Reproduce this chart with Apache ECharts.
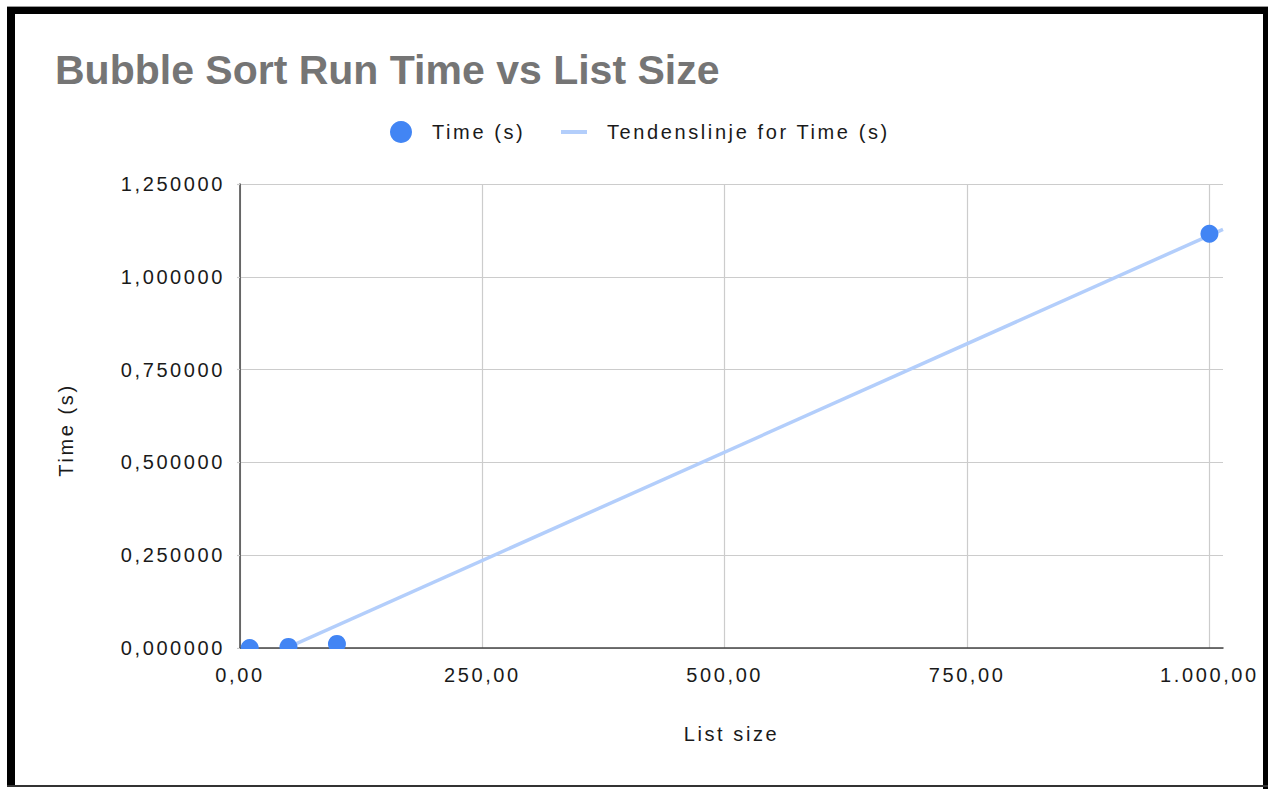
<!DOCTYPE html>
<html>
<head>
<meta charset="utf-8">
<script src="https://cdn.jsdelivr.net/npm/echarts@6/dist/echarts.min.js"></script>
<style>
  html, body { margin: 0; padding: 0; background: #fff; }
  #chart { width: 1268px; height: 789px; }
  /* wider tracking for the regular-weight labels, none for the bold title */
  #chart text { letter-spacing: 2.6px; }
  #chart text[style*="bold"], #chart text[font-weight="bold"] { letter-spacing: 0; }
</style>
</head>
<body>
<div id="chart"></div>
<script>
// Measured run times of bubble sort for several list sizes
const listSizes = [10, 50, 100, 1000];
const runTimes = [0.0001, 0.003, 0.011, 1.116];

const seriesName = 'Time (s)';
const trendName = 'Tendenslinje for Time (s)';
const titleText = 'Bubble Sort Run Time vs List Size';
const xAxisName = 'List size';
const yAxisName = 'Time (s)';

const xMax = 1014;
const xStep = 250;
const yMax = 1.25;
const yStep = 0.25;

// least-squares linear trend through the measurements
function linearFit(xs, ys) {
  const n = xs.length;
  const mx = xs.reduce((a, b) => a + b, 0) / n;
  const my = ys.reduce((a, b) => a + b, 0) / n;
  let sxy = 0, sxx = 0;
  for (let i = 0; i < n; i++) {
    sxy += (xs[i] - mx) * (ys[i] - my);
    sxx += (xs[i] - mx) * (xs[i] - mx);
  }
  const slope = sxy / sxx;
  return { slope, intercept: my - slope * mx };
}
const fit = linearFit(listSizes, runTimes);
const trendData = [0, xMax].map(x => [x, fit.intercept + fit.slope * x]);

function fmtX(v) {
  const parts = v.toFixed(2).split('.');
  parts[0] = parts[0].replace(/\B(?=(\d{3})+(?!\d))/g, '.');
  return parts.join(',');
}
function fmtY(v) {
  return v.toFixed(6).replace('.', ',');
}

const FONT = '"Liberation Sans", Arial, sans-serif';
const BLUE = '#4285f4';
const TREND = '#b3cefb';
const GRID = '#cccccc';
const AXIS = '#444444';
const TEXT = '#1a1a1a';

const chart = echarts.init(document.getElementById('chart'), null, { renderer: 'svg' });

chart.setOption({
  backgroundColor: '#ffffff',
  animation: false,
  textStyle: { fontFamily: FONT },
  title: {
    text: titleText,
    left: 55,
    top: 49,
    padding: 0,
    textStyle: { fontFamily: FONT, fontSize: 41, fontWeight: 'bold', color: '#757575' }
  },
  legend: [
    {
      data: [{ name: seriesName, icon: 'circle' }],
      left: 390,
      top: 121,
      padding: 0,
      itemWidth: 22,
      itemHeight: 22,
      textStyle: { fontFamily: FONT, fontSize: 20, color: TEXT, lineHeight: 22, padding: [0, 0, 0, 15] }
    },
    {
      data: [{ name: trendName, icon: 'rect' }],
      left: 561,
      top: 121,
      padding: 0,
      itemWidth: 26,
      itemHeight: 4,
      textStyle: { fontFamily: FONT, fontSize: 20, color: TEXT, lineHeight: 22, padding: [0, 0, 0, 15] }
    }
  ],
  grid: {
    left: 240,
    right: 45,
    top: 184,
    bottom: 141,
    containLabel: false,
    outerBoundsMode: 'none'
  },
  xAxis: {
    type: 'value',
    min: 0,
    max: xMax,
    interval: xStep,
    name: xAxisName,
    nameLocation: 'middle',
    nameGap: 76,
    nameMoveOverlap: false,
    nameTextStyle: { fontFamily: FONT, fontSize: 20, color: TEXT },
    axisLine: { show: true, onZero: false, lineStyle: { color: AXIS, width: 1.5 } },
    axisTick: { show: false },
    axisLabel: {
      formatter: fmtX,
      fontFamily: FONT,
      fontSize: 20,
      color: TEXT,
      margin: 17,
      showMaxLabel: false
    },
    splitLine: { show: true, showMaxLine: false, lineStyle: { color: GRID, width: 1.2 } }
  },
  yAxis: {
    type: 'value',
    min: 0,
    max: yMax,
    interval: yStep,
    name: yAxisName,
    nameLocation: 'middle',
    nameGap: 164,
    nameMoveOverlap: false,
    nameTextStyle: { fontFamily: FONT, fontSize: 20, color: TEXT, padding: [0, 28, 0, 0] },
    axisLine: { show: true, onZero: false, lineStyle: { color: AXIS, width: 1.5 } },
    axisTick: { show: true, length: 3, lineStyle: { color: GRID, width: 1.2 } },
    axisLabel: {
      formatter: fmtY,
      fontFamily: FONT,
      fontSize: 20,
      color: TEXT,
      margin: 15
    },
    splitLine: { show: true, lineStyle: { color: GRID, width: 1.2 } }
  },
  series: [
    {
      name: trendName,
      type: 'line',
      data: trendData,
      showSymbol: false,
      symbol: 'none',
      clip: true,
      color: TREND,
      lineStyle: { color: TREND, width: 3.5 },
      z: 2
    },
    {
      name: seriesName,
      type: 'scatter',
      data: listSizes.map((x, i) => [x, runTimes[i]]),
      symbol: 'circle',
      symbolSize: 18,
      clip: true,
      color: BLUE,
      itemStyle: { color: BLUE, opacity: 1 },
      z: 3
    }
  ],
  graphic: [
    // markers are cut off at the bottom edge of the plot area
    { type: 'rect', z: 50, shape: { x: 225, y: 649, width: 1000, height: 10 }, style: { fill: '#fff' }, silent: true },
    // outer frame around the chart
    { type: 'rect', z: 60, shape: { x: 7, y: 6, width: 1261, height: 1 }, style: { fill: '#9a9a9a' }, silent: true },
    { type: 'rect', z: 60, shape: { x: 7, y: 7, width: 1261, height: 7 }, style: { fill: '#000' }, silent: true },
    { type: 'rect', z: 60, shape: { x: 7, y: 7, width: 8, height: 779 }, style: { fill: '#000' }, silent: true },
    { type: 'rect', z: 60, shape: { x: 1263, y: 7, width: 5, height: 782 }, style: { fill: '#000' }, silent: true },
    { type: 'rect', z: 60, shape: { x: 7, y: 785, width: 1261, height: 2 }, style: { fill: '#333' }, silent: true }
  ]
});
</script>
</body>
</html>
